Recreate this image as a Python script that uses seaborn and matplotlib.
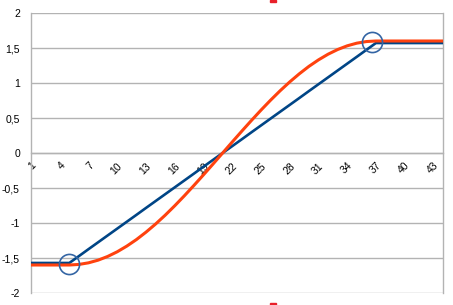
import numpy as np
import pandas as pd
import matplotlib
matplotlib.use("Agg")
import matplotlib.pyplot as plt
from matplotlib.ticker import MultipleLocator, FixedLocator, FuncFormatter
from matplotlib.patches import Rectangle
import seaborn as sns

x_vals = list(range(1, 45))
linear_vals = [-1.571, -1.571, -1.571, -1.571, -1.571, -1.473, -1.374, -1.276, -1.178, -1.080,
               -0.982, -0.884, -0.785, -0.687, -0.589, -0.491, -0.393, -0.295, -0.196, -0.098,
               0.000, 0.098, 0.196, 0.295, 0.393, 0.491, 0.589, 0.687, 0.785, 0.884,
               0.982, 1.080, 1.178, 1.276, 1.374, 1.473, 1.571, 1.571, 1.571, 1.571,
               1.571, 1.571, 1.571, 1.571]
smooth_vals = [-1.600, -1.600, -1.600, -1.600, -1.600, -1.592, -1.569, -1.531, -1.478, -1.411,
               -1.330, -1.237, -1.131, -1.015, -0.889, -0.754, -0.612, -0.464, -0.312, -0.157,
               0.000, 0.157, 0.312, 0.464, 0.612, 0.754, 0.889, 1.015, 1.131, 1.237,
               1.330, 1.411, 1.478, 1.531, 1.569, 1.592, 1.600, 1.600, 1.600, 1.600,
               1.600, 1.600, 1.600, 1.600]
circle_x = [5, 36.6]
circle_y = [-1.59, 1.58]
x_tick_labels = list(range(1, 44, 3))
y_ticks = [-2, -1.5, -1, -0.5, 0, 0.5, 1, 1.5, 2]

df = pd.DataFrame({
    "x": x_vals * 2,
    "y": linear_vals + smooth_vals,
    "series": ["linear"] * len(x_vals) + ["smooth"] * len(x_vals),
})

sns.set_style("white")
plt.rcParams["font.family"] = ["Liberation Sans", "DejaVu Sans"]

fig = plt.figure(figsize=(4.53, 3.05), dpi=100)
ax = fig.add_axes([31 / 453, 1 - 293 / 305, 412 / 453, 280 / 305])

grid_c = "#b3b3b3"
sns.lineplot(data=df[df.series == "linear"], x="x", y="y", color="#004586",
             linewidth=1.9, ax=ax, zorder=3, legend=False)
sns.lineplot(data=df[df.series == "smooth"], x="x", y="y", color="#ff420e",
             linewidth=2.2, ax=ax, zorder=4, legend=False)
ax.plot(circle_x, circle_y, linestyle="none", marker="o", markersize=14.5,
        markerfacecolor="none", markeredgecolor="#3465a4", markeredgewidth=1.2,
        zorder=5)

ax.set_xlim(1, 44)
ax.set_ylim(-2, 2)
ax.set_yticks(y_ticks)
ax.yaxis.set_major_formatter(FuncFormatter(lambda v, p: ("%g" % v).replace(".", ",")))
ax.xaxis.set_major_locator(FixedLocator(x_tick_labels))
ax.xaxis.set_minor_locator(MultipleLocator(1))
ax.xaxis.set_major_formatter(FuncFormatter(lambda v, p: "%d" % v))
ax.set_xlabel("")
ax.set_ylabel("")

ax.grid(axis="y", color=grid_c, linewidth=1)
ax.set_axisbelow(True)
for s in ["left", "right", "top", "bottom"]:
    ax.spines[s].set_color(grid_c)
    ax.spines[s].set_linewidth(1)
ax.spines["bottom"].set_position(("data", 0))
ax.spines["top"].set_visible(False)

ax.tick_params(axis="x", which="both", direction="inout", length=5, color=grid_c,
               labelsize=7.5, pad=3, labelcolor="black", labelrotation=45)
ax.tick_params(axis="y", which="both", direction="out", length=5, color=grid_c,
               labelsize=7.5, pad=3, labelcolor="black")
for lab in ax.get_xticklabels():
    lab.set_ha("right")
    lab.set_va("top")
    lab.set_rotation_mode("anchor")

fig.patches.append(Rectangle((270 / 453, 1 - 2 / 305), 6 / 453, 2 / 305,
                             transform=fig.transFigure, color="#e8202a"))
fig.patches.append(Rectangle((270 / 453, 0), 6 / 453, 2 / 305,
                             transform=fig.transFigure, color="#e8202a"))

fig.savefig("out.png", dpi=100)
